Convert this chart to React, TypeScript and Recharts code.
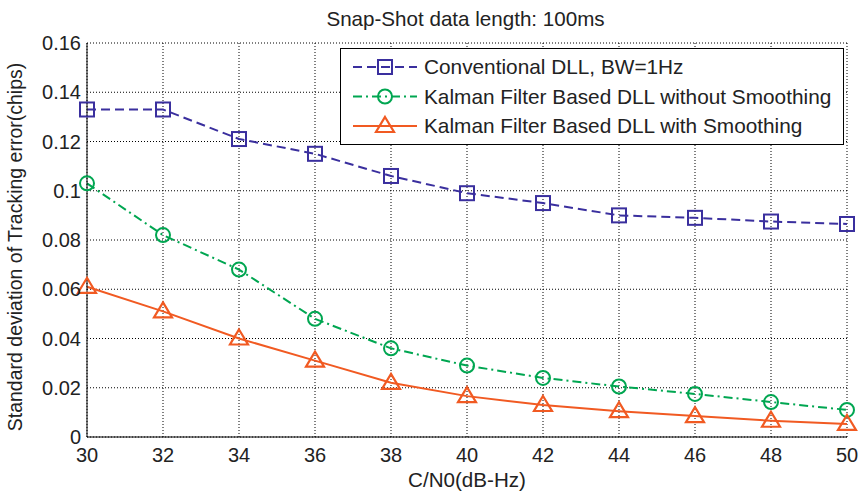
import React from 'react';
import { LineChart, Line, XAxis, YAxis, CartesianGrid, Legend } from 'recharts';

const snr = [30, 32, 34, 36, 38, 40, 42, 44, 46, 48, 50];
const conventional = [0.133, 0.133, 0.121, 0.115, 0.106, 0.099, 0.095, 0.09, 0.089, 0.0875, 0.0865];
const kalmanNoSmooth = [0.103, 0.082, 0.068, 0.048, 0.036, 0.029, 0.024, 0.0205, 0.0175, 0.0142, 0.011];
const kalmanSmooth = [0.061, 0.051, 0.04, 0.031, 0.022, 0.0166, 0.013, 0.0105, 0.0085, 0.0066, 0.0053];

const xTicks = [30, 32, 34, 36, 38, 40, 42, 44, 46, 48, 50];
const yTicks = [0, 0.02, 0.04, 0.06, 0.08, 0.1, 0.12, 0.14, 0.16];

const data = snr.map((x, i) => ({
  snr: x,
  conv: conventional[i],
  noSmooth: kalmanNoSmooth[i],
  smooth: kalmanSmooth[i],
}));

const FONT = '"Liberation Sans", Arial, Helvetica, sans-serif';

type Shape = 'square' | 'circle' | 'triangle';

const series: { key: string; name: string; color: string; dash?: string; shape: Shape }[] = [
  { key: 'conv', name: 'Conventional DLL, BW=1Hz', color: '#3a2f9e', dash: '9 5', shape: 'square' },
  { key: 'noSmooth', name: 'Kalman Filter Based DLL without Smoothing', color: '#00a651', dash: '9 4 2 4', shape: 'circle' },
  { key: 'smooth', name: 'Kalman Filter Based DLL with Smoothing', color: '#f15a22', shape: 'triangle' },
];

function Marker({ cx, cy, shape, color }: { cx: number; cy: number; shape: Shape; color: string }) {
  if (shape === 'square') {
    return <rect x={cx - 7} y={cy - 7} width={14} height={14} fill="none" stroke={color} strokeWidth={2} />;
  }
  if (shape === 'circle') {
    return <circle cx={cx} cy={cy} r={7} fill="none" stroke={color} strokeWidth={2} />;
  }
  return (
    <polygon
      points={`${cx},${cy - 9} ${cx + 9},${cy + 6} ${cx - 9},${cy + 6}`}
      fill="none"
      stroke={color}
      strokeWidth={2.2}
    />
  );
}

function LegendBox() {
  return (
    <svg width={504} height={97} style={{ display: 'block' }}>
      <rect x={0.5} y={0.5} width={503} height={96} fill="#fff" stroke="#000" strokeWidth={1} />
      {series.map((s, i) => {
        const y = 19 + i * 29.5;
        return (
          <g key={s.key}>
            <line x1={13} y1={y} x2={77} y2={y} stroke={s.color} strokeWidth={2} strokeDasharray={s.dash} />
            <Marker cx={45} cy={y} shape={s.shape} color={s.color} />
            <text x={84} y={y + 7} fontSize={20.8} fontFamily={FONT} fill="#222">
              {s.name}
            </text>
          </g>
        );
      })}
    </svg>
  );
}

function YLabel() {
  return (
    <text
      x={22}
      y={247}
      transform="rotate(-90, 22, 247)"
      textAnchor="middle"
      fontSize={19.5}
      fontFamily={FONT}
      fill="#222"
    >
      Standard deviation of Tracking error(chips)
    </text>
  );
}

export default function App() {
  return (
    <div style={{ position: 'fixed', left: 0, top: 0, width: 860, height: 492, background: '#fff', fontFamily: FONT }}>
      <div
        style={{
          position: 'absolute',
          left: 465.5,
          top: 9,
          transform: 'translateX(-50%)',
          fontSize: 20.6,
          lineHeight: '20px',
          whiteSpace: 'nowrap',
          color: '#222',
        }}
      >
        Snap-Shot data length: 100ms
      </div>
      <LineChart width={860} height={492} data={data} margin={{ top: 43, right: 13, bottom: 0, left: 0 }}>
        <CartesianGrid stroke="#000" strokeDasharray="1 2" strokeWidth={1} />
        <XAxis
          dataKey="snr"
          type="number"
          domain={[30, 50]}
          ticks={xTicks}
          height={55}
          tickLine={false}
          tickMargin={5}
          axisLine={{ stroke: '#000', strokeWidth: 1 }}
          tick={{ fill: '#222', fontSize: 20, fontFamily: FONT }}
          label={{ value: 'C/N0(dB-Hz)', position: 'insideBottom', offset: 5, fill: '#222', fontSize: 20.6, fontFamily: FONT }}
        />
        <YAxis
          type="number"
          domain={[0, 0.16]}
          ticks={yTicks}
          width={87}
          tickLine={false}
          tickMargin={0}
          axisLine={{ stroke: '#000', strokeWidth: 1 }}
          tick={{ fill: '#222', fontSize: 20, fontFamily: FONT }}
          label={<YLabel />}
        />
        <Legend
          layout="vertical"
          align="center"
          verticalAlign="middle"
          wrapperStyle={{ position: 'absolute', left: 340, top: 48, width: 504, height: 97 }}
          content={() => <LegendBox />}
        />
        {series.map((s) => (
          <Line
            key={s.key}
            dataKey={s.key}
            name={s.name}
            stroke={s.color}
            strokeWidth={2}
            strokeDasharray={s.dash}
            isAnimationActive={false}
            dot={(p: any) => <Marker key={`${s.key}-${p.index}`} cx={p.cx} cy={p.cy} shape={s.shape} color={s.color} />}
            activeDot={false}
          />
        ))}
      </LineChart>
    </div>
  );
}
